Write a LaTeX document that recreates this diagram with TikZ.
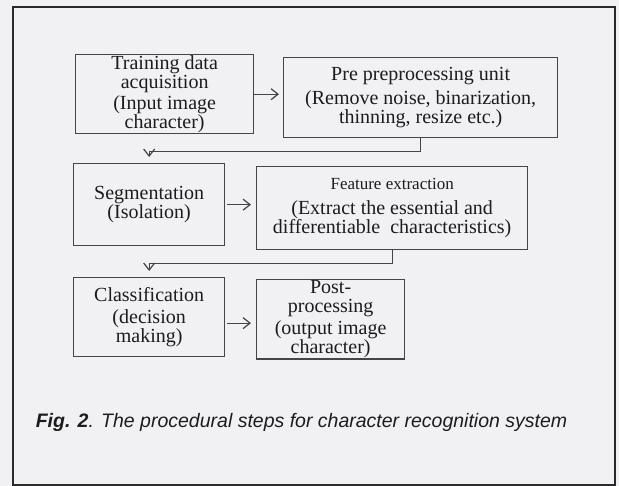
\documentclass[tikz,border=0pt]{standalone}
\usepackage{fontspec}
\setmainfont{Liberation Serif}
\setsansfont{Liberation Sans}
\usetikzlibrary{arrows.meta, positioning, calc}
\definecolor{cpaper}{HTML}{F1F1F4}
\definecolor{cline}{HTML}{454545}
\definecolor{cframe}{HTML}{2A2A2A}
\definecolor{ctext}{HTML}{1C1C1C}
\tikzset{
  every picture/.style={line width=1pt},
  stage/.style={draw=cline, line width=1.3pt, align=center, inner sep=1pt, anchor=north west,
    text=ctext, font=\fontsize{20}{19}\selectfont},
  flow/.style={-{Straight Barb[length=7pt, width=11pt]}, draw=cline, line width=1.2pt},
  caption/.style={font=\sffamily\itshape\fontsize{19.5}{22}\selectfont, text=ctext, anchor=base west},
}

\begin{document}
\begin{tikzpicture}[x=1pt, y=-1pt]
  \fill[cpaper] (0,0) rectangle (619,486);
  \useasboundingbox (0,0) rectangle (619,486);
  \draw[cframe, line width=2pt] (13,7) rectangle (615,485);
  % row 1: acquisition and preprocessing
  \node[stage, minimum width=178pt, minimum height=79pt] (train) at (75,54)
    {Training data\\acquisition\\[2pt](Input image\\character)};
  \node[stage, minimum width=274pt, minimum height=80pt] (prep) at (283,57)
    {Pre preprocessing unit\\[5pt](Remove noise, binarization,\\thinning, resize etc.)};
  % row 2: segmentation and features
  \node[stage, minimum width=151pt, minimum height=82pt] (seg) at (73,163)
    {Segmentation\\(Isolation)};
  \node[stage, minimum width=271pt, minimum height=83pt, font=\fontsize{20}{18}\selectfont] (feat) at (256,166)
    {{\fontsize{17}{18}\selectfont Feature extraction}\\[7pt](Extract the essential and\\differentiable\ \ characteristics)};
  % row 3: classification and post-processing
  \node[stage, minimum width=151pt, minimum height=79pt] (cls) at (73,277)
    {Classification\\[3pt](decision\\making)};
  \node[stage, minimum width=148pt, minimum height=79pt] (post) at (256,279)
    {Post-\\processing\\[3pt](output image\\character)};
  % connectors
  \draw[flow, shorten >=4pt] (train.east) -- (train.east -| prep.west);
  \draw[flow, shorten <=2pt, shorten >=5pt] (seg.east) -- (seg.east -| feat.west);
  \draw[flow, shorten <=2pt, shorten >=5pt] ([yshift=-6pt]cls.east) -- ([yshift=-6pt]cls.east -| post.west);
  \draw[flow, shorten >=6pt] (prep.south) -- ++(0,13) -| (seg.north);
  \draw[flow, shorten >=6pt] (feat.south) -- ++(0,13) -| (cls.north);
  % caption
  \node[caption] (cap) at (32,428) {\textbf{Fig. 2}. The procedural steps for character recognition system};
\end{tikzpicture}
\end{document}
